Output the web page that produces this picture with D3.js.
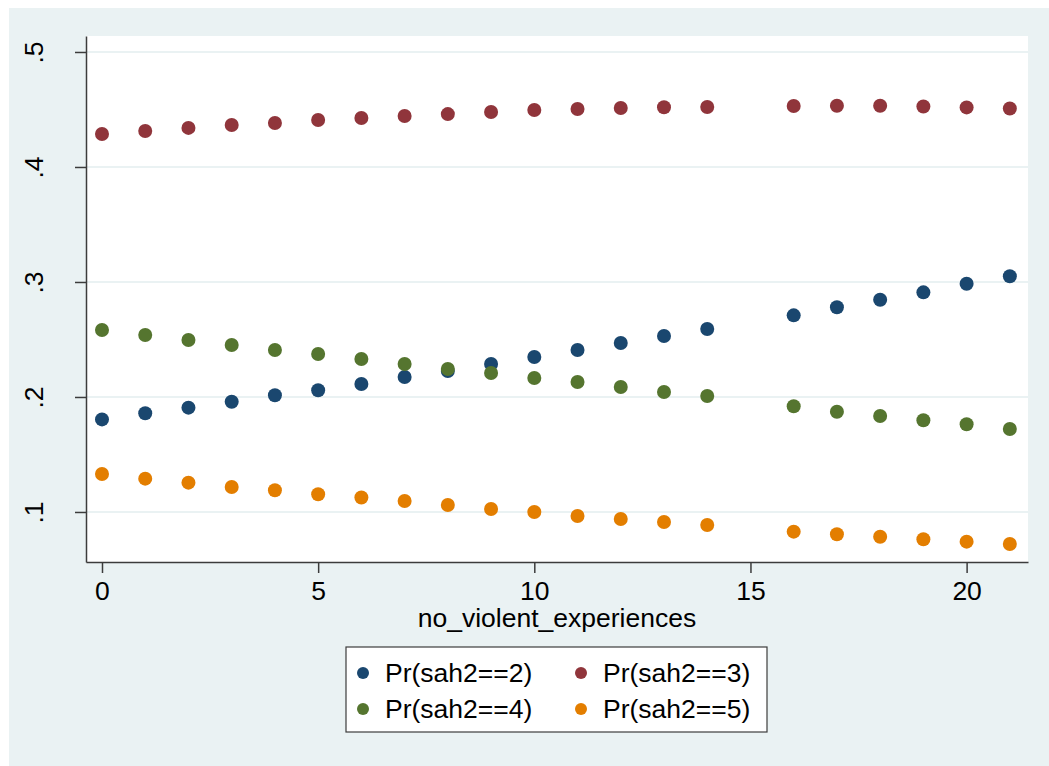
<!DOCTYPE html>
<html>
<head>
<meta charset="utf-8">
<script src="https://cdn.jsdelivr.net/npm/d3@7/dist/d3.min.js"></script>
<style>
  body { margin: 0; background: #ffffff; }
  text { font-family: "Liberation Sans", Arial, sans-serif; fill: #000; }
</style>
</head>
<body>
<div id="chart"></div>
<script>
// chart size
var svgWidth = 1049;
var svgHeight = 766;

// plot region
var margin = { top: 36, right: 21, bottom: 204, left: 86 };
var chartWidth = svgWidth - margin.left - margin.right;
var chartHeight = svgHeight - margin.top - margin.bottom;

// data (no x = 15)
var xValues = [0, 1, 2, 3, 4, 5, 6, 7, 8, 9, 10, 11, 12, 13, 14, 16, 17, 18, 19, 20, 21];
var pr2 = [0.1805, 0.1858, 0.1907, 0.1959, 0.2015, 0.2058, 0.2113, 0.2174, 0.2226, 0.2287, 0.2348,
           0.2409, 0.2470, 0.2530, 0.2591, 0.2710, 0.2780, 0.2846, 0.2910, 0.2985, 0.3050];
var pr3 = [0.4287, 0.4313, 0.4340, 0.4365, 0.4383, 0.4409, 0.4426, 0.4443, 0.4460, 0.4478, 0.4496,
           0.4504, 0.4513, 0.4520, 0.4522, 0.4530, 0.4532, 0.4532, 0.4526, 0.4518, 0.4508];
var pr4 = [0.2583, 0.2539, 0.2496, 0.2452, 0.2409, 0.2374, 0.2330, 0.2287, 0.2243, 0.2209, 0.2165,
           0.2130, 0.2087, 0.2043, 0.2009, 0.1919, 0.1872, 0.1835, 0.1797, 0.1763, 0.1722];
var pr5 = [0.1330, 0.1290, 0.1255, 0.1217, 0.1189, 0.1154, 0.1126, 0.1096, 0.1061, 0.1026, 0.1000,
           0.0965, 0.0939, 0.0913, 0.0887, 0.0829, 0.0806, 0.0785, 0.0763, 0.0742, 0.0722];

var seriesNames = ["Pr(sah2==2)", "Pr(sah2==3)", "Pr(sah2==4)", "Pr(sah2==5)"];
var seriesColors = ["#1a476f", "#90353b", "#55752f", "#e37e00"];
var seriesValues = [pr2, pr3, pr4, pr5];

var xTicks = [0, 5, 10, 15, 20];
var yTicks = [0.1, 0.2, 0.3, 0.4, 0.5];
var yTickLabels = [".1", ".2", ".3", ".4", ".5"];

var svg = d3.select("#chart")
  .append("svg")
  .attr("width", svgWidth)
  .attr("height", svgHeight);

// stata style outer background
svg.append("rect")
  .attr("x", 9).attr("y", 8)
  .attr("width", svgWidth - 9).attr("height", svgHeight - 8)
  .attr("fill", "#eaf2f3");

var chartGroup = svg.append("g")
  .attr("transform", `translate(${margin.left}, ${margin.top})`);

chartGroup.append("rect")
  .attr("width", chartWidth)
  .attr("height", chartHeight)
  .attr("fill", "#ffffff");

// scales
var xScale = d3.scaleLinear()
  .domain([-0.37, 21.42])
  .range([0, chartWidth]);

var yScale = d3.scaleLinear()
  .domain([0.0565, 0.5139])
  .range([chartHeight, 0]);

// gridlines
chartGroup.selectAll(".grid")
  .data(yTicks)
  .enter()
  .append("line")
  .attr("x1", 0)
  .attr("x2", chartWidth)
  .attr("y1", d => yScale(d))
  .attr("y2", d => yScale(d))
  .attr("stroke", "#eaf2f3")
  .attr("stroke-width", 2);

// axes
var bottomAxis = d3.axisBottom(xScale)
  .tickValues(xTicks)
  .tickSize(11)
  .tickSizeOuter(0)
  .tickPadding(8);

var leftAxis = d3.axisLeft(yScale)
  .tickValues(yTicks)
  .tickFormat((d, i) => yTickLabels[i])
  .tickSize(11)
  .tickSizeOuter(0);

var xAxisG = chartGroup.append("g")
  .attr("transform", `translate(0, ${chartHeight})`)
  .call(bottomAxis);

xAxisG.select(".domain").attr("stroke", "#3c3c3c").attr("stroke-width", 1.5);
xAxisG.selectAll(".tick line").attr("stroke", "#3c3c3c").attr("stroke-width", 1.5);
xAxisG.selectAll(".tick text")
  .style("font-size", "26.5px")
  .attr("fill", "#000");

var yAxisG = chartGroup.append("g")
  .call(leftAxis);

yAxisG.select(".domain").attr("stroke", "#3c3c3c").attr("stroke-width", 1.5);
yAxisG.selectAll(".tick line").attr("stroke", "#3c3c3c").attr("stroke-width", 1.5);
yAxisG.selectAll(".tick text")
  .style("font-size", "26.5px")
  .attr("fill", "#000")
  .attr("x", null)
  .attr("dy", null)
  .attr("text-anchor", "middle")
  .attr("transform", "translate(-43, 0) rotate(-90)");

// points
seriesValues.forEach(function(vals, s) {
  chartGroup.append("g")
    .selectAll("circle")
    .data(vals)
    .enter()
    .append("circle")
    .attr("cx", (d, i) => xScale(xValues[i]))
    .attr("cy", d => yScale(d))
    .attr("r", 7)
    .attr("fill", seriesColors[s]);
});

// x axis title
svg.append("text")
  .attr("x", margin.left + chartWidth / 2)
  .attr("y", 627)
  .attr("text-anchor", "middle")
  .style("font-size", "26.5px")
  .text("no_violent_experiences");

// legend
var legend = svg.append("g");
legend.append("rect")
  .attr("x", 346).attr("y", 647)
  .attr("width", 421).attr("height", 85)
  .attr("fill", "#ffffff")
  .attr("stroke", "#3c3c3c")
  .attr("stroke-width", 1.2);

var legendCols = [363, 581];
var legendRows = [673, 709];
seriesNames.forEach(function(name, i) {
  var cx = legendCols[i % 2];
  var cy = legendRows[Math.floor(i / 2)];
  legend.append("circle")
    .attr("cx", cx).attr("cy", cy).attr("r", 6)
    .attr("fill", seriesColors[i]);
  legend.append("text")
    .attr("x", cx + 22)
    .attr("y", cy + 9)
    .style("font-size", "26.5px")
    .text(name);
});
</script>
</body>
</html>
